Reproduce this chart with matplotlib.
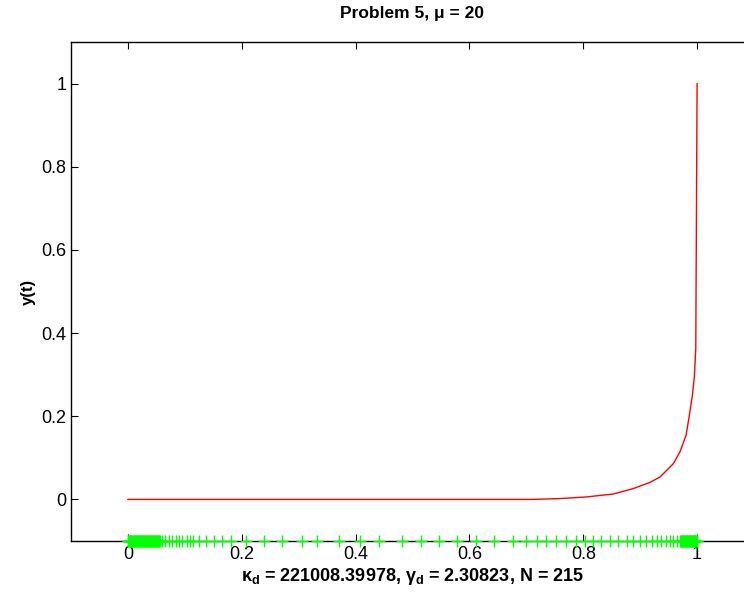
import matplotlib
matplotlib.use("Agg")
import matplotlib.pyplot as plt

plt.rcParams['font.family'] = ['Liberation Sans', 'DejaVu Sans']
plt.rcParams['mathtext.fontset'] = 'custom'
plt.rcParams['mathtext.rm'] = 'Liberation Sans:bold'
plt.rcParams['mathtext.bf'] = 'Liberation Sans:bold'

# solution curve y(t)
t_curve = [0.0, 0.60, 0.711, 0.7588, 0.8058, 0.8526, 0.8879, 0.9173, 0.9349,
           0.9583, 0.9701, 0.9806, 0.9864, 0.9917, 0.9952, 0.9977, 1.0]
y_curve = [0.0, 0.0, 0.0, 0.002, 0.006, 0.013, 0.026, 0.041, 0.054,
           0.086, 0.115, 0.154, 0.202, 0.25, 0.295, 0.362, 1.0]

# mesh points (N = 215), dense clusters near both ends
mesh_left = [0.000, 0.001, 0.002, 0.003, 0.004, 0.005, 0.006, 0.007, 0.008,
             0.009, 0.010, 0.011, 0.012, 0.013, 0.014, 0.015, 0.016, 0.017,
             0.018, 0.019, 0.020, 0.021, 0.022, 0.023, 0.024, 0.025, 0.026,
             0.027, 0.028, 0.029, 0.030, 0.031, 0.032, 0.033, 0.034, 0.035,
             0.036, 0.037, 0.038, 0.039, 0.040, 0.041, 0.042, 0.043, 0.044,
             0.045, 0.046, 0.047, 0.048, 0.049, 0.050, 0.051, 0.052, 0.053,
             0.054, 0.055, 0.056]
mesh_mid = [0.060, 0.066, 0.072, 0.078, 0.084, 0.090, 0.095, 0.104, 0.109,
            0.114, 0.125, 0.137, 0.151, 0.165, 0.181, 0.208, 0.239, 0.271,
            0.305, 0.333, 0.371, 0.407, 0.442, 0.482, 0.515, 0.547, 0.579,
            0.612, 0.644, 0.676, 0.700, 0.718, 0.735, 0.753, 0.770, 0.788,
            0.803, 0.817, 0.832, 0.847, 0.861, 0.876, 0.887, 0.899, 0.911,
            0.920, 0.929, 0.937, 0.946, 0.952, 0.957, 0.964]
mesh_right = [0.970, 0.971, 0.972, 0.973, 0.974, 0.975, 0.976, 0.977, 0.978,
              0.979, 0.980, 0.981, 0.982, 0.983, 0.984, 0.985, 0.986, 0.987,
              0.988, 0.989, 0.990, 0.991, 0.992, 0.993, 0.994, 0.995, 0.996,
              0.997, 0.998, 0.999, 1.000]
mesh = mesh_left + mesh_mid + mesh_right

ticks = [0, 0.2, 0.4, 0.6, 0.8, 1]
tick_labels = ['0', '0.2', '0.4', '0.6', '0.8', '1']

fig = plt.figure(figsize=(7.44, 5.96), dpi=100)
ax = fig.add_axes([71/744, 55/596, 683/744, 499/596])

ax.plot(t_curve, y_curve, color='red', lw=1.0)
ax.plot(mesh, [-0.1]*len(mesh), '+', color='#00ff00', ms=8, mew=1.0,
        clip_on=False, zorder=3)

ax.set_xlim(-0.1, 1.1)
ax.set_ylim(-0.1, 1.1)
ax.set_xticks(ticks)
ax.set_xticklabels(tick_labels)
ax.set_yticks(ticks)
ax.set_yticklabels(tick_labels)
ax.tick_params(direction='in', top=True, right=True, length=5, labelsize=13)
for s in ax.spines.values():
    s.set_linewidth(1.0)

ax.set_title('Problem 5, μ = 20', fontsize=12.5, fontweight='bold', pad=17)
ax.set_ylabel('y(t)', fontsize=12, fontweight='bold', labelpad=4)
ax.set_xlabel(r'κ$_\mathbf{d}$ = 221008.39978, γ$_\mathbf{d}$ = 2.30823, N = 215',
              fontsize=13, fontweight='bold', labelpad=2)

fig.savefig('out.png', dpi=100)
